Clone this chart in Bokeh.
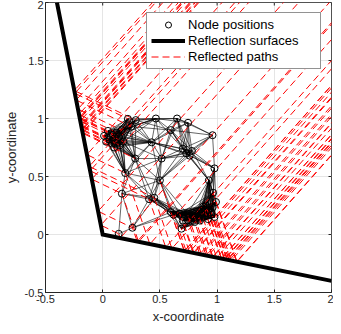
import numpy as np
from bokeh.plotting import figure
from bokeh.models import Range1d, FixedTicker
from bokeh.embed import file_html
from bokeh.resources import INLINE

# ---- data ----
node_x = [0.220, 0.289, 0.465, 0.650, 0.746, 0.960, 0.046, 0.012, 0.081, 0.139,
          0.100, 0.180, 0.250, 0.428, 0.595, 0.730, 0.760, 0.515, 0.284, 0.197,
          0.977, 0.500, 0.928, 0.168, 0.405, 0.451, 0.965, 0.990, 0.595, 0.688,
          0.260, 0.140, 0.977, 0.803, 0.861, 0.919, 0.803, 0.746, 0.962, 0.919,
          0.673, 0.060, 0.120, 0.165, 0.700, 0.780, 0.840, 0.900, 0.950,
          0.030, 0.150, 0.090, 0.620, 0.700, 0.740, 0.850, 0.880, 0.950]
node_y = [0.997, 0.986, 1.000, 1.000, 0.963, 0.856, 0.893, 0.850, 0.784, 0.841,
          0.750, 0.800, 0.930, 0.795, 0.900, 0.700, 0.680, 0.655, 0.655, 0.530,
          0.570, 0.467, 0.467, 0.352, 0.305, 0.317, 0.360, 0.280, 0.193, 0.050,
          0.058, 0.006, 0.150, 0.150, 0.185, 0.210, 0.107, 0.121, 0.236, 0.133,
          0.179, 0.820, 0.880, 0.900, 0.740, 0.720, 0.160, 0.250, 0.190,
          0.800, 0.770, 0.860, 0.170, 0.120, 0.180, 0.120, 0.240, 0.170]
comm_range = 0.38            # link radius of the node graph
surface_x = [-0.4, 0.0, 2.0]  # reflection surface vertices
surface_y = [2.0, 0.0, -0.4]
arrival_angle_deg = 48.0      # direction the plane wave arrives from
max_reflect_len = 0.66        # longest surface-to-node leg that is drawn
ticks = [-0.5, 0, 0.5, 1, 1.5, 2]
tick_labels = ["-0.5", "0", "0.5", "1", "1.5", "2"]

nx = np.array(node_x)
ny = np.array(node_y)

# graph edges (nodes within communication range)
ex, ey = [], []
for i in range(len(nx)):
    for j in range(i + 1, len(nx)):
        if np.hypot(nx[i] - nx[j], ny[i] - ny[j]) <= comm_range:
            ex.append([nx[i], nx[j]])
            ey.append([ny[i], ny[j]])

# reflected paths: far source -> reflection point -> node
a = np.deg2rad(arrival_angle_deg)
u = np.array([np.cos(a), np.sin(a)])
px, py = [], []
for k in range(len(surface_x) - 1):
    P0 = np.array([surface_x[k], surface_y[k]])
    P1 = np.array([surface_x[k + 1], surface_y[k + 1]])
    L = np.linalg.norm(P1 - P0)
    t = (P1 - P0) / L
    nrm = np.array([-t[1], t[0]])
    if np.dot(nrm, u) < 0:
        nrm = -nrm
    for n in zip(nx, ny):
        n = np.array(n)
        d = np.dot(n - P0, nrm)
        nm = n - 2 * d * nrm
        s = -np.dot(nm - P0, nrm) / np.dot(u, nrm)
        R = nm + s * u
        tt = np.dot(R - P0, t)
        if 0 <= tt <= L and np.linalg.norm(n - R) <= max_reflect_len:
            far = R + 6 * u
            px.append([far[0], R[0], n[0]])
            py.append([far[1], R[1], n[1]])

# ---- figure ----
txt = "#262626"
font = "Liberation Sans"
p = figure(width=333, height=326, x_range=Range1d(-0.5, 2), y_range=Range1d(-0.5, 2),
           output_backend="svg", toolbar_location=None,
           min_border_left=4, min_border_right=2, min_border_top=2, min_border_bottom=2)
p.background_fill_color = "white"
p.outline_line_color = txt
p.outline_line_width = 0.8

overrides = {float(v): s for v, s in zip(ticks, tick_labels)}
for ax in (p.xaxis[0], p.yaxis[0]):
    ax.ticker = FixedTicker(ticks=ticks)
    ax.major_label_overrides = overrides
    ax.major_tick_in = 3
    ax.major_tick_out = 0
    ax.minor_tick_line_color = None
    ax.axis_line_color = txt
    ax.major_tick_line_color = txt
    ax.major_label_text_color = txt
    ax.major_label_text_font = font
    ax.major_label_text_font_size = "11px"
    ax.axis_label_text_font = font
    ax.axis_label_text_font_size = "13px"
    ax.axis_label_text_font_style = "normal"
    ax.axis_label_text_color = txt
    ax.major_label_standoff = 2
    ax.axis_label_standoff = 3
p.xaxis.axis_label = "x-coordinate"
p.yaxis.axis_label = "y-coordinate"

# inward tick marks on the top and right frame edges
tk = np.array(ticks, dtype=float)
tlen = 0.026
p.segment(x0=tk, y0=np.full_like(tk, 2.0), x1=tk, y1=np.full_like(tk, 2.0 - tlen),
          line_color=txt, line_width=1)
p.segment(x0=np.full_like(tk, 2.0), y0=tk, x1=np.full_like(tk, 2.0 - tlen), y1=tk,
          line_color=txt, line_width=1)

p.grid.ticker = FixedTicker(ticks=ticks)
p.grid.grid_line_color = "#dedede"
p.grid.grid_line_width = 0.8

p.multi_line(ex, ey, line_color="black", line_width=0.6)
p.multi_line(px, py, line_color="#ff0000", line_width=1.0, line_dash="7 4",
             legend_label="Reflected paths")
p.scatter(node_x, node_y, marker="circle", size=7, fill_color=None,
          line_color="black", line_width=1.0, legend_label="Node positions")
p.line(surface_x, surface_y, line_color="black", line_width=4, line_join="miter",
       legend_label="Reflection surfaces")

lg = p.legend[0]
lg.items = [lg.items[1], lg.items[2], lg.items[0]]
lg.location = "top_right"
lg.margin = 10
lg.padding = 4
lg.spacing = 1
lg.glyph_width = 34
lg.glyph_height = 15
lg.label_height = 15
lg.label_width = 128
lg.label_standoff = 3
lg.label_text_font = font
lg.label_text_font_size = "13px"
lg.label_text_color = "black"
lg.border_line_color = txt
lg.border_line_width = 0.8
lg.background_fill_alpha = 1.0

open("out.html", "w").write(file_html(p, INLINE))
